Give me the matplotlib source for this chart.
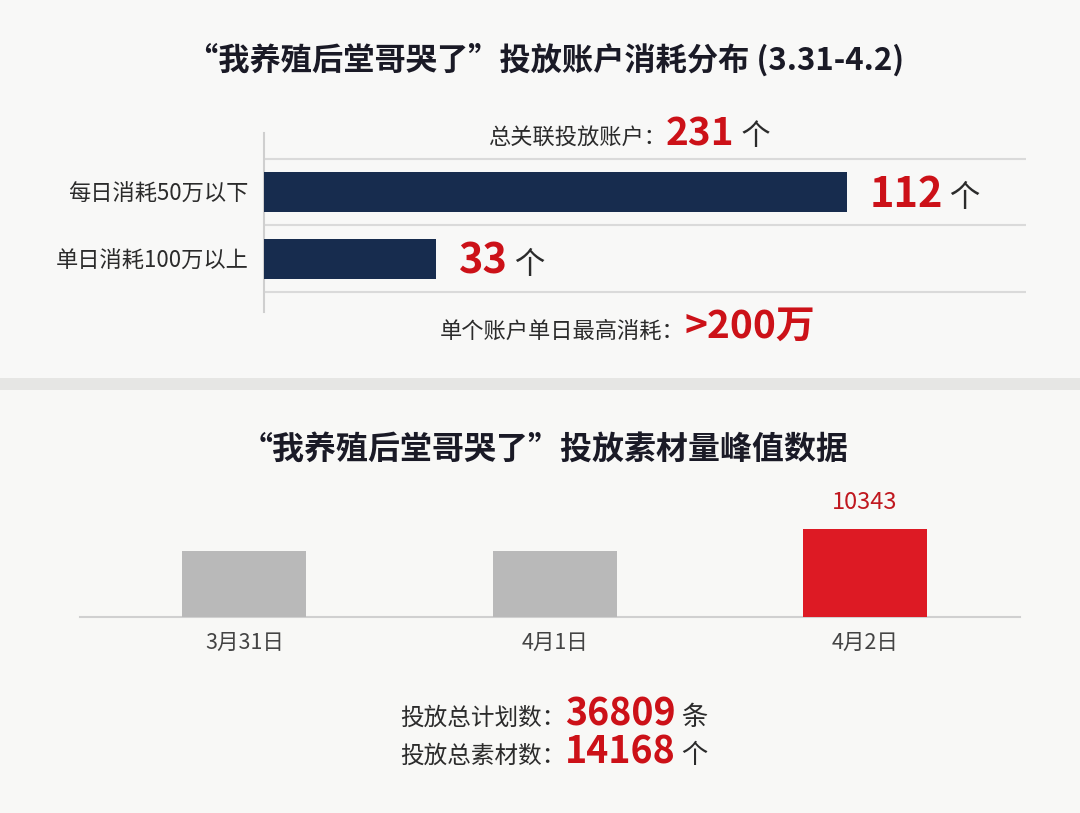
import matplotlib
matplotlib.use('Agg')
import matplotlib.pyplot as plt
from matplotlib.patches import Rectangle

plt.rcParams['font.family'] = ['Noto Sans CJK SC', 'DejaVu Sans']

# 数据
title1 = '“我养殖后堂哥哭了”投放账户消耗分布 (3.31-4.2)'
title2 = '“我养殖后堂哥哭了”投放素材量峰值数据'
acct_cats = ['每日消耗50万以下', '单日消耗100万以上']
acct_vals = [112, 33]
acct_total = 231
acct_max = '>200万'
days = ['3月31日', '4月1日', '4月2日']
day_vals = [7780, 7700, 10343]
plan_total = 36809
material_total = 14168

W, H = 1080, 813
RED = '#cc1118'
NAVY = '#172c4e'
DARK = '#2b2b2b'

fig = plt.figure(figsize=(W / 100, H / 100), dpi=100)
fig.patch.set_facecolor('#f8f8f6')
# 上下两块背景
fig.patches.append(Rectangle((0, 1 - 378 / H), 1, 378 / H, transform=fig.transFigure,
                             facecolor='#f8f8f7', edgecolor='none', zorder=-2))
fig.patches.append(Rectangle((0, 1 - 390 / H), 1, 12 / H, transform=fig.transFigure,
                             facecolor='#e6e6e4', edgecolor='none', zorder=-2))


def fx(px):
    return px / W


def fy(py):
    return 1 - py / H


def row(x, y, parts, ha='left'):
    # 多段文字按基线横排，x,y 为像素
    texts = [fig.text(0, fy(y), s, va='baseline', **kw) for s, kw in parts]
    r = fig.canvas.get_renderer()
    ws = [t.get_window_extent(r).width for t in texts]
    total = sum(ws)
    cur = x - total / 2 if ha == 'center' else x
    for t, w in zip(texts, ws):
        t.set_x(fx(cur))
        cur += w
    return texts


fig.text(fx(546), fy(60), title1, ha='center', va='center', fontsize=22.5,
         fontweight='bold', color='#1a1a26')
fig.text(fx(545), fy(450), title2, ha='center', va='center', fontsize=23,
         fontweight='bold', color='#1a1a26')

# 上图：横向条形
ax1 = fig.add_axes([fx(264), fy(312), fx(1026) - fx(264), fy(133) - fy(312)])
ax1.set_facecolor('none')
ypos = list(range(len(acct_cats)))
ax1.barh(ypos, acct_vals, height=0.6, color=NAVY, zorder=3)
ax1.set_ylim(1.8, -0.89)
ax1.set_xlim(0, 146.5)
for i in range(len(acct_cats) + 1):
    ax1.axhline(i - 0.5, color='#dadada', lw=1.5, zorder=1)
for s in ['top', 'right', 'bottom']:
    ax1.spines[s].set_visible(False)
ax1.spines['left'].set_color('#cfcfcf')
ax1.spines['left'].set_linewidth(1.5)
ax1.set_xticks([])
ax1.set_yticks(ypos)
ax1.set_yticklabels(acct_cats, fontsize=16, color=DARK)
ax1.tick_params(axis='y', length=0, pad=11)

fig.canvas.draw()
for i, v in enumerate(acct_vals):
    px, py = ax1.transData.transform((v, i))
    row(px + 23, H - py + 15, [(str(v), dict(fontsize=30, fontweight='bold', color=RED)),
                               (' 个', dict(fontsize=22, color=DARK))])

row(488, 145, [('总关联投放账户：', dict(fontsize=16, color=DARK)),
               (str(acct_total), dict(fontsize=28, fontweight='bold', color=RED)),
               (' 个', dict(fontsize=21, color=DARK))])
row(440, 338, [('单个账户单日最高消耗：', dict(fontsize=16, color=DARK)),
               (acct_max, dict(fontsize=28, fontweight='bold', color=RED))])

# 下图：素材量柱状
ax2 = fig.add_axes([fx(80), fy(617), fx(1020) - fx(80), fy(480) - fy(617)])
ax2.set_facecolor('none')
xpos = list(range(len(days)))
colors = ['#b9b9b9'] * (len(days) - 1) + ['#dd1a24']
ax2.bar(xpos, day_vals, width=0.4, color=colors, zorder=3)
ax2.set_xlim(-0.53, 2.5)
ax2.set_ylim(0, 16100)
for s in ['top', 'right', 'left']:
    ax2.spines[s].set_visible(False)
ax2.spines['bottom'].set_color('#d0d0d0')
ax2.spines['bottom'].set_linewidth(1.5)
ax2.set_yticks([])
ax2.set_xticks(xpos)
ax2.set_xticklabels(days, fontsize=15.5, color='#444444')
ax2.tick_params(axis='x', length=0, pad=11)
ax2.annotate(str(day_vals[-1]), (xpos[-1], day_vals[-1]), xytext=(0, 11),
             textcoords='offset points', ha='center', va='bottom',
             fontsize=17, color='#c0181f')

row(400, 725, [('投放总计划数：', dict(fontsize=17, color=DARK)),
               (str(plan_total), dict(fontsize=27, fontweight='bold', color=RED)),
               (' 条', dict(fontsize=19, color=DARK))])
row(400, 763, [('投放总素材数：', dict(fontsize=17, color=DARK)),
               (str(material_total), dict(fontsize=27, fontweight='bold', color=RED)),
               (' 个', dict(fontsize=19, color=DARK))])

fig.savefig('out.png', dpi=100, facecolor=fig.get_facecolor())
